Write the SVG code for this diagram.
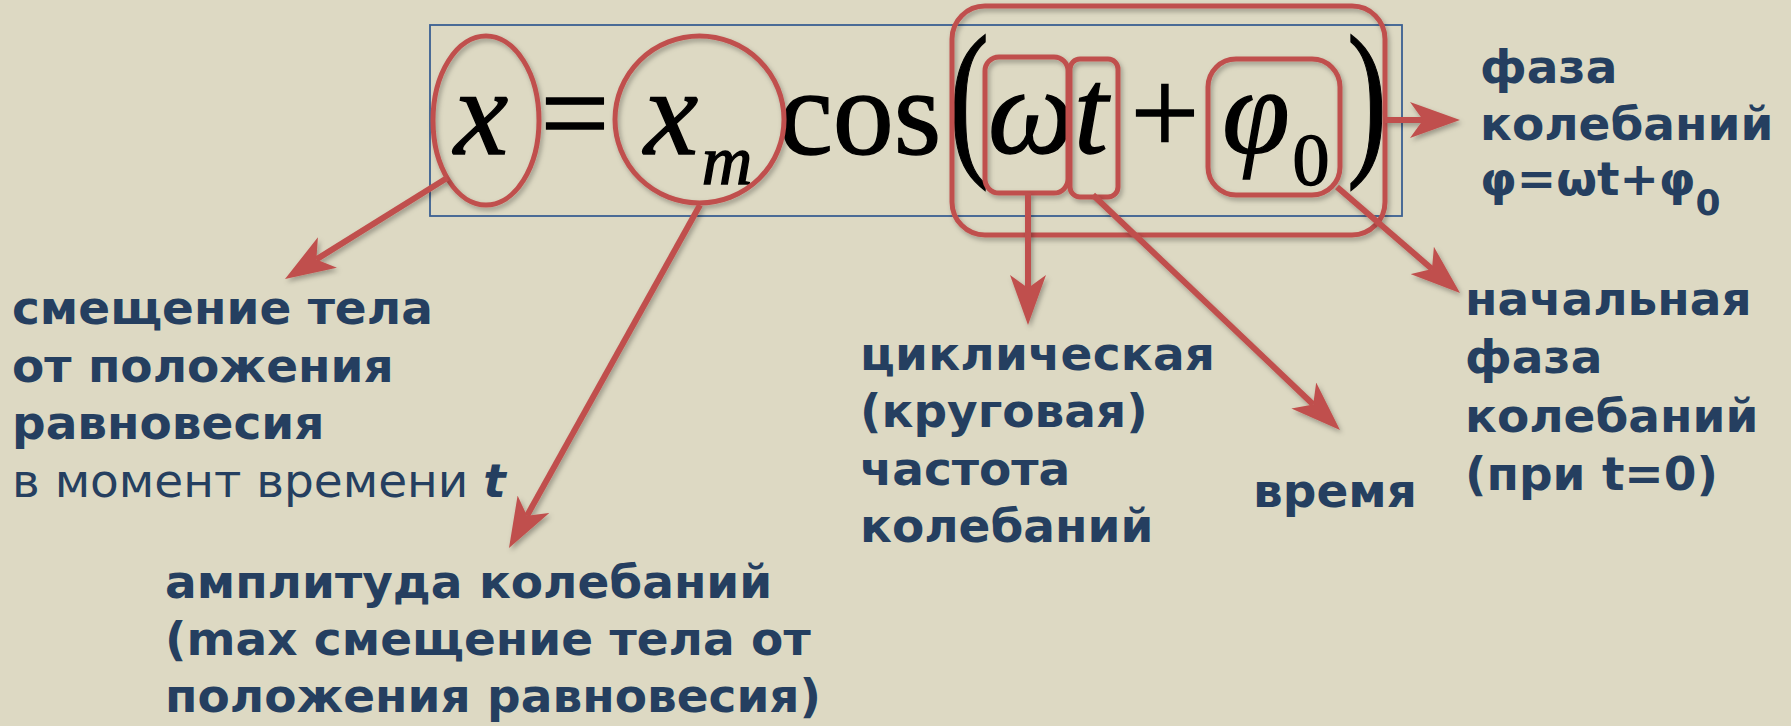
<svg xmlns="http://www.w3.org/2000/svg" width="1791" height="726" viewBox="0 0 1791 726">
<defs>
<style>
.bg{fill:#DDD9C3}
.frame{fill:none;stroke:#3A5F92;stroke-width:1.8}
.f{font-family:"Liberation Serif","Times New Roman",serif;fill:#000;stroke:#000;stroke-width:1.4;text-anchor:middle}
.fi{font-style:italic}
.hl{fill:none;stroke:#C0504D;stroke-width:5}
.cn{fill:none;stroke:#C0504D;stroke-width:6;marker-end:url(#ah)}
.lb{font-family:"DejaVu Sans","Verdana",sans-serif;font-weight:bold;font-size:47px;fill:#253F60}
.lr{font-family:"DejaVu Sans","Verdana",sans-serif;font-weight:normal;font-size:47px;fill:#253F60}
</style>
<filter id="sh" x="-20%" y="-20%" width="140%" height="140%">
<feDropShadow dx="2" dy="3" stdDeviation="2.5" flood-color="#000" flood-opacity="0.3"/>
</filter>
<marker id="ah" viewBox="0 0 50 36" refX="13" refY="18" markerWidth="50" markerHeight="36" markerUnits="userSpaceOnUse" orient="auto">
<path d="M0,0 L50,18 L0,36 L13,18 Z" fill="#C0504D"/>
</marker>
</defs>
<rect class="bg" x="0" y="0" width="1791" height="726"/>

<g id="formula">
<rect class="frame" x="430" y="25" width="972" height="191"/>
<text class="f fi" x="481" y="154" font-size="122">x</text>
<text class="f" x="575" y="154" font-size="122">=</text>
<text class="f fi" x="671" y="154" font-size="122">x</text>
<text class="f fi" x="727" y="184" font-size="70" stroke-width="0.8">m</text>
<text class="f" x="860" y="154" font-size="122">cos</text>
<g transform="translate(969,154) scale(0.7,1)"><text class="f" x="0" y="0" font-size="172">(</text></g>
<text class="f fi" x="1031" y="153" font-size="122">ω</text>
<text class="f fi" x="1091" y="153" font-size="122">t</text>
<text class="f" x="1165" y="154" font-size="122">+</text>
<text class="f fi" x="1256" y="153" font-size="122">φ</text>
<text class="f" x="1311" y="185" font-size="74" stroke-width="0.6">0</text>
<g transform="translate(1367,154) scale(0.7,1)"><text class="f" x="0" y="0" font-size="172">)</text></g>
</g>

<g filter="url(#sh)">
<ellipse id="hl-x" class="hl" cx="486" cy="120.5" rx="53" ry="84.5"/>
<ellipse id="hl-xm" class="hl" cx="699.5" cy="119.5" rx="84.5" ry="83.5"/>
<rect id="hl-phase" class="hl" x="952" y="6" width="433" height="229" rx="33"/>
<rect id="hl-omega" class="hl" x="985" y="57" width="83" height="136" rx="14"/>
<rect id="hl-t" class="hl" x="1070" y="59" width="48" height="138" rx="10"/>
<rect id="hl-phi0" class="hl" x="1208" y="59" width="132" height="136" rx="28"/>
</g>

<g id="connectors" filter="url(#sh)">
<path class="cn" d="M447,178 L316.4,259.4"/>
<path class="cn" d="M700,205 L527,515.7"/>
<path class="cn" d="M1028,193 L1028,288"/>
<path class="cn" d="M1093,195 L1313.2,404.5"/>
<path class="cn" d="M1337,187 L1432,268.9"/>
<path class="cn" d="M1385,120 L1423,120"/>
</g>

<g id="label-displacement">
<text class="lb" x="12" y="324">смещение тела</text>
<text class="lb" x="12" y="382">от положения</text>
<text class="lb" x="12" y="439">равновесия</text>
<text class="lr" x="12" y="497">в момент времени <tspan font-weight="bold" font-style="italic">t</tspan></text>
</g>

<g id="label-amplitude">
<text class="lb" x="165" y="598">амплитуда колебаний</text>
<text class="lb" x="165" y="655">(max смещение тела от</text>
<text class="lb" x="165" y="712">положения равновесия)</text>
</g>

<g id="label-cyclic">
<text class="lb" x="860" y="370" textLength="355" lengthAdjust="spacing">циклическая</text>
<text class="lb" x="860" y="427">(круговая)</text>
<text class="lb" x="860" y="485">частота</text>
<text class="lb" x="860" y="542">колебаний</text>
</g>

<g id="label-time">
<text class="lb" x="1253" y="507">время</text>
</g>

<g id="label-phase">
<text class="lb" x="1480" y="83">фаза</text>
<text class="lb" x="1480" y="140">колебаний</text>
<text class="lb" x="1480" y="195">φ=ωt+φ<tspan font-size="36" dy="20">0</tspan></text>
</g>

<g id="label-initial-phase">
<text class="lb" x="1465" y="315">начальная</text>
<text class="lb" x="1465" y="373">фаза</text>
<text class="lb" x="1465" y="432">колебаний</text>
<text class="lb" x="1465" y="490">(при t=0)</text>
</g>
</svg>
